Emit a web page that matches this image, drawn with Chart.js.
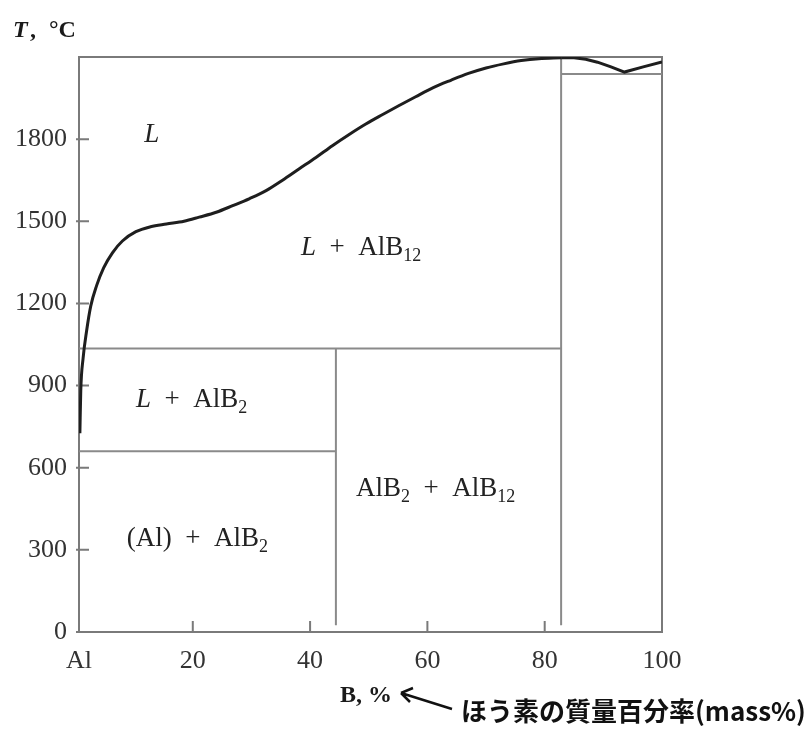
<!DOCTYPE html>
<html>
<head>
<meta charset="utf-8">
<script src="https://cdn.jsdelivr.net/npm/chart.js@4.4.1/dist/chart.umd.min.js"></script>
<style>
  body { margin: 0; background: #fff; }
  #wrap { width: 808px; height: 729px; }
</style>
</head>
<body>
<div id="wrap"><canvas id="c" width="808" height="729"></canvas></div>
<script>
// axis ticks
const xTickValues = [0.6, 20, 40, 60, 80, 100];
const xTickLabels = ['Al', '20', '40', '60', '80', '100'];
const yTickValues = [0, 300, 600, 900, 1200, 1500, 1800];

// liquidus, Al side up to AlB12 (mass% B, deg C)
const liquidusB = [0.75, 0.9, 1.3, 1.9, 2.6, 3.6, 4.8, 6.3, 8.0, 10.3, 12.8, 15.5, 18.5, 21.1, 24, 26.8, 29.7,
  32.5, 35.3, 38.1, 41, 43.8, 46.6, 49.5, 52.3, 55.1, 58, 61, 64, 67, 70, 73, 76, 79, 82.8];
const liquidusT = [726, 880, 1000, 1100, 1190, 1265, 1330, 1385, 1428, 1462, 1480, 1490, 1500, 1515, 1533, 1557, 1583,
  1612, 1650, 1691, 1733, 1776, 1816, 1855, 1889, 1922, 1955, 1988, 2015, 2040, 2060, 2075, 2087, 2094, 2097];

// liquidus, B side
const boronSideB = [82.8, 85, 87, 89, 91.3, 93.6, 96.8, 100];
const boronSideT = [2097, 2097, 2092, 2081, 2064, 2045, 2064, 2082];

// invariant temperatures and compounds
const peritecticT = 1035;
const alMeltT = 660;
const eutecticT = 2038;
const alB2 = 44.4;
const alB12 = 82.8;
const bottomT = 25;
const topT = 2100;

const regionLabels = [
  { x: 13, y: 1823, parts: [['L', 'i']] },
  { x: 48.7, y: 1411, parts: [['L', 'i'], ['  +  AlB', ''], ['12', 's']] },
  { x: 19.8, y: 853, parts: [['L', 'i'], ['  +  AlB', ''], ['2', 's']] },
  { x: 61.4, y: 529, parts: [['AlB', ''], ['2', 's'], ['  +  AlB', ''], ['12', 's']] },
  { x: 20.8, y: 346, parts: [['(Al)  +  AlB', ''], ['2', 's']] }
];

const toPts = (xs, ys) => xs.map((v, i) => ({ x: v, y: ys[i] }));
const grey = '#8a8a8a';
const lineSet = (pts) => ({
  data: pts, borderColor: grey, borderWidth: 2, pointRadius: 0, showLine: true, tension: 0, order: 2
});

const serif = '"Liberation Serif", "DejaVu Serif", serif';

function drawParts(ctx, parts, cx, cy, size) {
  const fontFor = (k) => k === 'i' ? `italic ${size}px ${serif}` :
    k === 's' ? `${Math.round(size * 0.68)}px ${serif}` : `${size}px ${serif}`;
  let w = 0;
  parts.forEach(([t, k]) => { ctx.font = fontFor(k); w += ctx.measureText(t).width; });
  let px = cx - w / 2;
  ctx.textBaseline = 'alphabetic';
  ctx.textAlign = 'left';
  parts.forEach(([t, k]) => {
    ctx.font = fontFor(k);
    ctx.fillText(t, px, cy + size * 0.33 + (k === 's' ? size * 0.22 : 0));
    px += ctx.measureText(t).width;
  });
}

const framePlugin = {
  id: 'frame',
  beforeDatasetsDraw(chart) {
    const { ctx, chartArea: a, scales: { x, y } } = chart;
    ctx.save();
    ctx.strokeStyle = '#7a7a7a';
    ctx.lineWidth = 2;
    ctx.strokeRect(a.left, a.top, a.right - a.left, a.bottom - a.top);
    ctx.beginPath();
    yTickValues.forEach(v => {
      const py = y.getPixelForValue(v);
      ctx.moveTo(a.left - 3, py); ctx.lineTo(a.left + 10, py);
    });
    xTickValues.slice(1, -1).forEach(v => {
      const px = x.getPixelForValue(v);
      ctx.moveTo(px, a.bottom); ctx.lineTo(px, a.bottom - 11);
    });
    ctx.stroke();
    ctx.restore();
  },
  afterDatasetsDraw(chart) {
    const { ctx, scales: { x, y } } = chart;
    ctx.save();
    ctx.fillStyle = '#222';
    regionLabels.forEach(l => drawParts(ctx, l.parts, x.getPixelForValue(l.x), y.getPixelForValue(l.y), 27));

    // axis titles
    ctx.fillStyle = '#1a1a1a';
    ctx.textAlign = 'left';
    ctx.textBaseline = 'alphabetic';
    ctx.font = `italic bold 24px ${serif}`;
    ctx.fillText('T', 13, 37);
    ctx.font = `bold 24px ${serif}`;
    ctx.fillText(',', 30, 37);
    ctx.fillText('°C', 49, 37);

    ctx.font = `bold 24px ${serif}`;
    ctx.fillText('B, %', 340, 702);

    // arrow to the unit
    ctx.strokeStyle = '#111';
    ctx.lineWidth = 2.5;
    ctx.beginPath();
    ctx.moveTo(452, 709); ctx.lineTo(401, 693);
    ctx.moveTo(401, 693); ctx.lineTo(413, 688);
    ctx.moveTo(401, 693); ctx.lineTo(410, 702);
    ctx.stroke();

    ctx.fillStyle = '#111';
    ctx.font = 'bold 26px "Noto Sans CJK JP", sans-serif';
    ctx.fillText('ほう素の質量百分率(mass%)', 461, 721);
    ctx.restore();
  }
};

new Chart(document.getElementById('c'), {
  type: 'scatter',
  data: {
    datasets: [
      {
        data: toPts(liquidusB, liquidusT), borderColor: '#1e1e1e', borderWidth: 3, pointRadius: 0,
        showLine: true, tension: 0.4, cubicInterpolationMode: 'monotone', order: 0
      },
      {
        data: toPts(boronSideB, boronSideT), borderColor: '#1e1e1e', borderWidth: 3, pointRadius: 0,
        showLine: true, tension: 0, order: 0
      },
      lineSet([{ x: 0.6, y: peritecticT }, { x: alB12, y: peritecticT }]),
      lineSet([{ x: 0.6, y: alMeltT }, { x: alB2, y: alMeltT }]),
      lineSet([{ x: alB12, y: eutecticT }, { x: 100, y: eutecticT }]),
      lineSet([{ x: alB2, y: bottomT }, { x: alB2, y: peritecticT }]),
      lineSet([{ x: alB12, y: bottomT }, { x: alB12, y: topT }])
    ]
  },
  options: {
    responsive: false,
    animation: false,
    layout: { padding: { top: 57, right: 146, left: 0, bottom: 0 } },
    plugins: { legend: { display: false }, tooltip: { enabled: false } },
    scales: {
      x: {
        type: 'linear', min: 0.6, max: 100,
        afterBuildTicks: (s) => { s.ticks = xTickValues.map(v => ({ value: v })); },
        afterFit: (s) => { s.height = 97; },
        grid: { display: false, drawTicks: false },
        border: { display: false },
        ticks: {
          padding: 14, color: '#333', maxRotation: 0, autoSkip: false,
          font: { family: serif, size: 26 },
          callback: (v, i) => xTickLabels[i]
        }
      },
      y: {
        type: 'linear', min: 0, max: topT,
        afterBuildTicks: (s) => { s.ticks = yTickValues.map(v => ({ value: v })); },
        afterFit: (s) => { s.width = 79; },
        grid: { display: false, drawTicks: false },
        border: { display: false },
        ticks: {
          padding: 12, color: '#333', autoSkip: false,
          font: { family: serif, size: 26 },
          callback: (v) => String(v)
        }
      }
    }
  },
  plugins: [framePlugin]
});
</script>
</body>
</html>
